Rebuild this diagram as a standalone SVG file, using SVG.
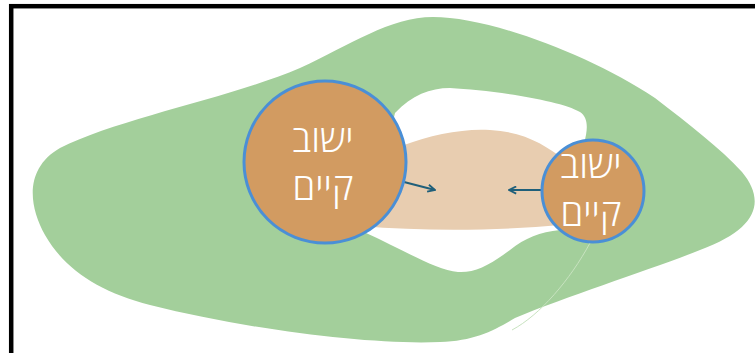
<svg xmlns="http://www.w3.org/2000/svg" width="755" height="353" viewBox="0 0 755 353">
<defs>
<style>
.land{fill:#a3cf9b}
.hole{fill:#ffffff}
.zone{fill:#e8cdb0}
.town{fill:#d29b61;stroke:#4a8fd6;stroke-width:3}
.lbl{fill:#ffffff;font-family:"Open Sans","DejaVu Sans",sans-serif;font-weight:300;text-anchor:middle;font-size:37px}
.conn{stroke:#1f5f7a;stroke-width:2.2;fill:none}
</style>
<marker id="ah" viewBox="0 0 10 10" refX="9" refY="5" markerWidth="9" markerHeight="9" orient="auto" markerUnits="userSpaceOnUse">
<path d="M1,1 L9,5 L1,9" fill="none" stroke="#1f5f7a" stroke-width="2"/>
</marker>
</defs>
<rect x="0" y="0" width="755" height="353" fill="#ffffff"/>
<rect x="11.2" y="6.2" width="800" height="400" fill="none" stroke="#000000" stroke-width="4.5"/>
<g id="background">
<path class="land" d="M433,17 C390,17 350,45 300,68 C230,98 120,118 60,148 C25,168 28,205 45,235 C65,270 100,292 150,305 C250,330 370,345 440,342 C475,341 495,330 515,318 C570,295 650,270 700,250 C760,228 765,200 742,172 C720,148 690,125 655,98 C590,55 490,17 433,17 Z"/>
<path class="hole" d="M395,113 C412,95 430,88 450,88 C490,90 560,100 580,112 C592,120 586,140 578,160 L560,230 C540,232 525,238 510,250 C490,265 475,273 458,272 C435,270 400,248 366,233 Z"/>
<path class="zone" d="M404,145 C430,135 465,128 490,130 C525,132 545,145 565,160 L560,225 C510,230 430,232 360,226 Z"/>
<path d="M590,243 C570,280 540,315 512,330" fill="none" stroke="#c8e3c0" stroke-width="1"/>
</g>
<g id="connectors">
<line class="conn" x1="404" y1="182" x2="435" y2="190" marker-end="url(#ah)"/>
<line class="conn" x1="542" y1="190" x2="509" y2="190" marker-end="url(#ah)"/>
</g>
<g id="town-left">
<circle class="town" cx="325" cy="162" r="81"/>
<text class="lbl" x="323" y="152">ישוב</text>
<text class="lbl" x="323" y="200">קיים</text>
</g>
<g id="town-right">
<circle class="town" cx="593" cy="191" r="51"/>
<text class="lbl" x="591" y="178">ישוב</text>
<text class="lbl" x="591" y="226">קיים</text>
</g>
</svg>
